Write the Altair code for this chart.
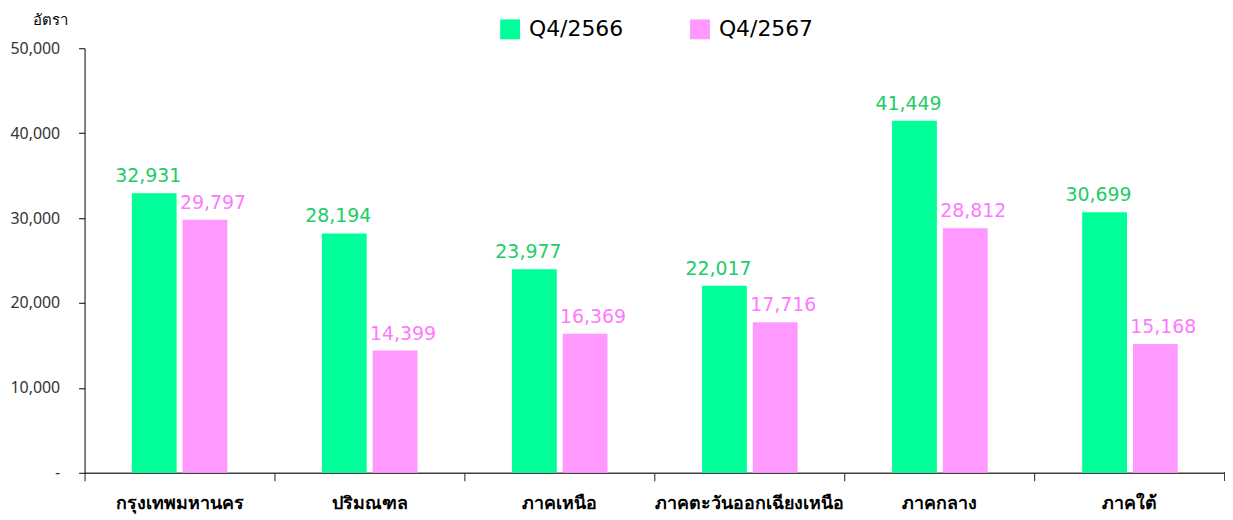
import altair as alt
import pandas as pd

categories = ["กรุงเทพมหานคร", "ปริมณฑล", "ภาคเหนือ", "ภาคตะวันออกเฉียงเหนือ", "ภาคกลาง", "ภาคใต้"]
series = ["Q4/2566", "Q4/2567"]
values_2566 = [32931, 28194, 23977, 22017, 41449, 30699]
values_2567 = [29797, 14399, 16369, 17716, 28812, 15168]

bar_colors = ["#00FF99", "#FF99FF"]
label_colors = ["#22CC66", "#FF77FF"]

rows = []
for c, a, b in zip(categories, values_2566, values_2567):
    rows.append({"region": c, "period": series[0], "value": a})
    rows.append({"region": c, "period": series[1], "value": b})
df = pd.DataFrame(rows)

FONT = "Tahoma, DejaVu Sans, sans-serif"
W, H = 1147, 427

x_enc = alt.X(
    "region:N", sort=categories, title=None,
    scale=alt.Scale(paddingInner=0, paddingOuter=0),
    axis=alt.Axis(
        bandPosition=0, labelAngle=0, labelLimit=0,
        labelFont=FONT, labelFontSize=18, labelFontWeight="bold", labelColor="#000000",
        labelPadding=14, tickSize=8, tickColor="#404040", domainColor="#404040",
        domainWidth=1.5, tickWidth=1.2,
    ),
)
xo_enc = alt.XOffset("period:N", sort=series,
                     scale=alt.Scale(paddingInner=0.118, paddingOuter=0.93))
y_enc = alt.Y(
    "value:Q",
    scale=alt.Scale(domain=[0, 50000], nice=False),
    axis=alt.Axis(
        values=[0, 10000, 20000, 30000, 40000, 50000],
        labelExpr="datum.value == 0 ? '-' : format(datum.value, ',')",
        labelFont="Noto Sans, DejaVu Sans, sans-serif", labelFontSize=16,
        labelColor="#333333", labelPadding=19,
        tickSize=6, tickColor="#000000", domainColor="#000000", grid=False,
        title="อัตรา", titleAngle=0, titleAlign="center", titleBaseline="alphabetic",
        titleX=-35, titleY=-24, titleFont=FONT, titleFontSize=15,
        titleFontWeight="normal", titleColor="#000000",
    ),
)

base = alt.Chart(df).encode(x=x_enc, xOffset=xo_enc, y=y_enc)

bars = base.mark_bar().encode(
    color=alt.Color(
        "period:N", sort=series, title=None,
        scale=alt.Scale(domain=series, range=bar_colors),
        legend=alt.Legend(
            orient="none", legendX=417, legendY=-30, direction="horizontal",
            symbolType="square", symbolSize=400, symbolStrokeWidth=0,
            labelFont=FONT, labelFontSize=22, labelColor="#000000",
            labelOffset=8, columnPadding=66,
        ),
    )
)

t1 = base.mark_text(baseline="alphabetic", dy=-11, dx=-6, font=FONT, fontSize=19,
                    color=label_colors[0]).encode(
    text=alt.Text("value:Q", format=",")
).transform_filter(alt.datum.period == series[0])
t2 = base.mark_text(baseline="alphabetic", dy=-11, dx=8, font=FONT, fontSize=19,
                    color=label_colors[1]).encode(
    text=alt.Text("value:Q", format=",")
).transform_filter(alt.datum.period == series[1])

end_tick = alt.Chart(df).mark_rule(color="#404040", strokeWidth=1.2).encode(
    x=alt.value(W), y=alt.value(H), y2=alt.value(H + 8)
)

chart = alt.layer(bars, t1, t2, end_tick).properties(
    width=W, height=H,
    autosize=alt.AutoSizeParams(type="none"),
    padding={"left": 77, "top": 39, "right": 0, "bottom": 46},
).configure_view(stroke=None)

chart.save("out.html", embed_options={"renderer": "svg", "actions": False})
